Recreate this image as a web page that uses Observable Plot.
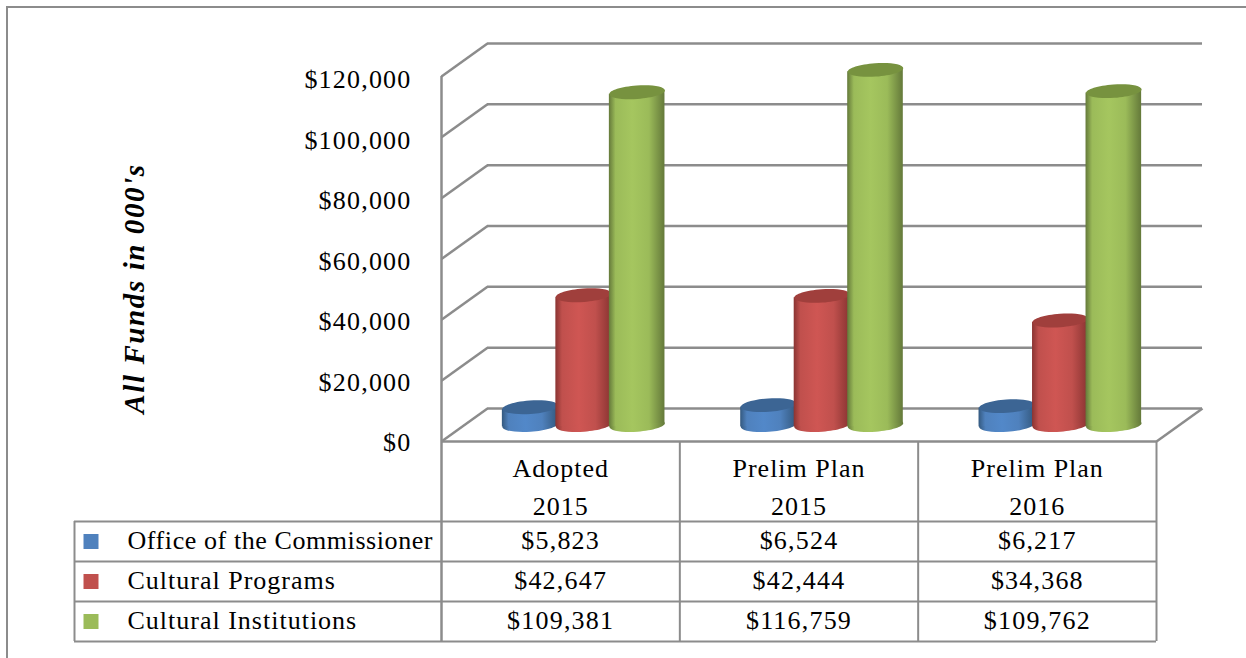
<!DOCTYPE html>
<html><head><meta charset="utf-8">
<script src="https://cdn.jsdelivr.net/npm/d3@7"></script>
<script src="https://cdn.jsdelivr.net/npm/@observablehq/plot@0.6"></script>
<style>
html,body{margin:0;padding:0;background:#fff;overflow:hidden}
#c{position:relative;width:1246px;height:658px}
#c svg{display:block;max-width:none;position:absolute;left:0;top:0}
#f{position:absolute;left:6px;top:6px;right:0;bottom:0;border-left:2px solid #8c8c8c;border-top:2px solid #8c8c8c;z-index:2;pointer-events:none}
</style></head><body><div id="c"><div id="f"></div></div>
<script>
const categoryTop = ["Adopted", "Prelim Plan", "Prelim Plan"];
const categoryYear = ["2015", "2015", "2016"];
const seriesNames = ["Office of the Commissioner", "Cultural Programs", "Cultural Institutions"];
const office = [5823, 6524, 6217];
const programs = [42647, 42444, 34368];
const institutions = [109381, 116759, 109762];
const yTicks = [0, 20000, 40000, 60000, 80000, 100000, 120000];
const axisTitle = "All Funds in 000's";
const colors = ["#4f81bd", "#c0504d", "#9bbb59"];
const topColors = ["#3c6594", "#a03f3c", "#77923f"];
const edgeColors = ["#34597f", "#8a3432", "#64793a"];
const midColors = ["#5288c9", "#cf5653", "#a5c65f"];

const seriesValues = [office, programs, institutions];
const UX = 3 / 715, UY = 120000 / 365;         // scale units per pixel
const depthX = 46 * UX, depthY = 33 * UY;
const barStep = 53.5 * UX, barRx = 27.8 * UX, barShift = 0;
const tilt = 1.9 * UY;
const rowH = 40 * UY, headH = 80 * UY;
const rowEdges = [0, 1, 2, 3].map(i => -(headH + i * rowH));
const rowCenter = i => -(headH + (i + 0.5) * rowH);
const tableLeft = -367 * UX;
const lineColor = "#8c8c8c";
const font = "'Liberation Serif', serif";
const wallWidth = 2.5, gridWidth = 2;
const labelSqueeze = 363 / 365;

const ellipse = (rx, ry, deg) => ({
  draw(ctx) {
    const a = deg * Math.PI / 180, c = Math.cos(a), s = Math.sin(a), k = 0.5523;
    const P = (x, y) => [x * c - y * s, x * s + y * c];
    const B = (a1, a2, a3, a4, a5, a6) => {
      const p = P(a1, a2), q = P(a3, a4), r = P(a5, a6);
      ctx.bezierCurveTo(p[0], p[1], q[0], q[1], r[0], r[1]);
    };
    ctx.moveTo(...P(rx, 0));
    B(rx, k * ry, k * rx, ry, 0, ry);
    B(-k * rx, ry, -rx, k * ry, -rx, 0);
    B(-rx, -k * ry, -k * rx, -ry, 0, -ry);
    B(k * rx, -ry, rx, -k * ry, rx, 0);
    ctx.closePath();
  }
});
const capSymbol = ellipse(27.8, 6.7, -4);

const gradients = () => {
  const defs = d3.create("svg:defs");
  colors.forEach((_, s) => {
    const g = defs.append("linearGradient").attr("id", "cyl" + s).attr("x1", 0).attr("x2", 1).attr("y1", 0).attr("y2", 0);
    [[0, edgeColors[s]], [0.12, colors[s]], [0.42, midColors[s]], [0.72, colors[s]], [1, edgeColors[s]]].forEach(([o, c]) =>
      g.append("stop").attr("offset", o).attr("stop-color", c));
  });
  return defs.node();
};

const barMarks = [];
categoryTop.forEach((_, i) => {
  seriesValues.forEach((vals, s) => {
    const cx = i + 0.5 + depthX / 2 + (s - 1) * barStep + barShift;
    const base = depthY / 2, top = base + vals[i];
    const fill = `url(#cyl${s})`;
    barMarks.push(
      Plot.dot([0], {x: () => cx, y: () => base, symbol: capSymbol, r: 10, fill}),
      Plot.areaY([[cx - barRx, -tilt], [cx + barRx, tilt]], {
        x: d => d[0], y1: d => base + d[1], y2: d => top + d[1], fill, curve: "linear"
      }),
      Plot.dot([0], {x: () => cx, y: () => top, symbol: capSymbol, r: 10, fill: topColors[s]})
    );
  });
});

const money = d => "$" + d3.format(",")(d);
const tableRows = seriesNames.flatMap((n, s) => categoryTop.map((_, i) => ({s, i, v: seriesValues[s][i]})));

const chart = Plot.plot({
  width: 1246, height: 658,
  marginTop: 0, marginRight: 0, marginBottom: 0, marginLeft: 0,
  x: {type: "linear", domain: [0, 3], range: [441, 1156]},
  y: {type: "linear", domain: [0, 120000], range: [441, 76]},
  style: {fontFamily: font, background: "#fff", color: "#000"},
  marks: [
    gradients,
    // back wall
    Plot.ruleY(yTicks, {y: d => d + depthY, x1: depthX, x2: 3 + depthX, stroke: lineColor, strokeWidth: wallWidth}),
    // side wall and floor
    Plot.link(yTicks, {x1: 0, y1: d => d, x2: depthX, y2: d => d + depthY, stroke: lineColor, strokeWidth: wallWidth}),
    Plot.link([0], {x1: 3, y1: 0, x2: 3 + depthX, y2: depthY, stroke: lineColor, strokeWidth: wallWidth}),
    Plot.ruleX([0], {y1: rowEdges[3], y2: 120000, stroke: lineColor, strokeWidth: wallWidth}),
    Plot.ruleY([0], {x1: 0, x2: 3, stroke: lineColor, strokeWidth: wallWidth}),
    // cylinders
    ...barMarks,
    // data table grid
    Plot.ruleY(rowEdges, {x1: tableLeft, x2: 3, stroke: lineColor, strokeWidth: gridWidth}),
    Plot.ruleX([1, 2, 3], {y1: rowEdges[3], y2: 0, stroke: lineColor, strokeWidth: gridWidth}),
    Plot.ruleX([tableLeft], {y1: rowEdges[3], y2: rowEdges[0], stroke: lineColor, strokeWidth: gridWidth}),
    // axis labels
    Plot.text(yTicks, {x: 0, y: d => d * labelSqueeze, text: money, textAnchor: "end", dx: -30, dy: 1.5, fontSize: 26, fill: "#000"}),
    Plot.text([axisTitle], {x: -307 * UX, y: 153 * UY, rotate: -90, text: d => d, fontSize: 29, fontWeight: "bold", fontStyle: "italic", fill: "#000"}),
    // category header
    Plot.text(categoryTop, {x: (d, i) => i + 0.5, y: 0, dy: 27, text: d => d, fontSize: 26, fill: "#000"}),
    Plot.text(categoryYear, {x: (d, i) => i + 0.5, y: 0, dy: 65, text: d => d, fontSize: 26, fill: "#000"}),
    // legend keys and names
    Plot.dot(seriesNames, {x: tableLeft, dx: 16.5, y: (d, i) => rowCenter(i), symbol: "square", r: 8.46, fill: (d, i) => colors[i], stroke: null}),
    Plot.text(seriesNames, {x: tableLeft, dx: 53, dy: -1, y: (d, i) => rowCenter(i), text: d => d, textAnchor: "start", fontSize: 26, fill: "#000"}),
    // values
    Plot.text(tableRows, {x: d => d.i + 0.5, y: d => rowCenter(d.s), dy: -1, text: d => money(d.v), fontSize: 26, fill: "#000"})
  ]
});
// tracking that brings the substitute serif to the original text widths
const spacing = t => t === axisTitle ? 1.6 : t === seriesNames[0] ? 0.58 : t.startsWith("$") ? 1.2 : 1.0;
d3.select(chart).selectAll("text").each(function () {
  this.style.letterSpacing = spacing(this.textContent) + "px";
});
document.getElementById("c").appendChild(chart);
</script></body></html>
